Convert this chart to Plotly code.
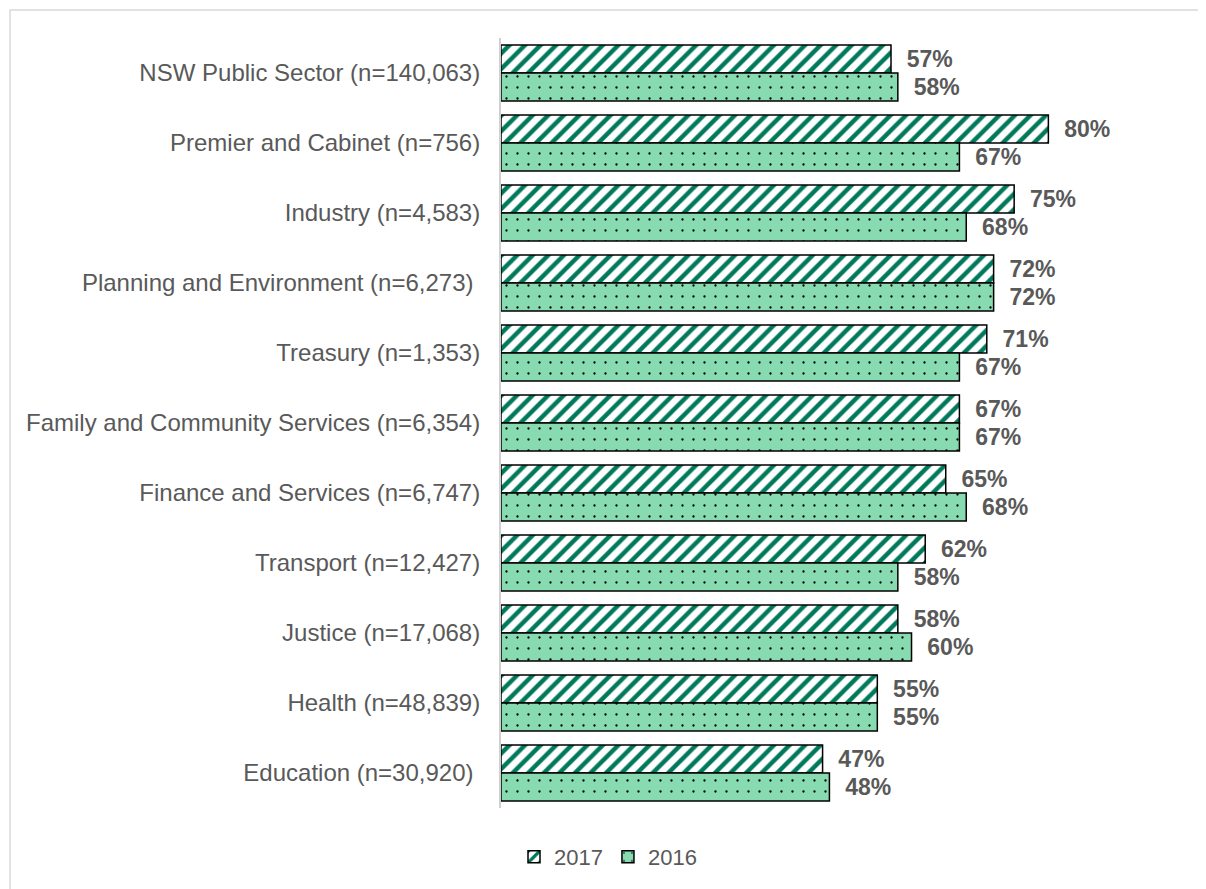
import plotly.graph_objects as go

categories = [
    "NSW Public Sector (n=140,063)",
    "Premier and Cabinet (n=756)",
    "Industry (n=4,583)",
    "Planning and Environment (n=6,273)\u00a0",
    "Treasury (n=1,353)",
    "Family and Community Services (n=6,354)",
    "Finance and Services (n=6,747)",
    "Transport (n=12,427)",
    "Justice (n=17,068)",
    "Health (n=48,839)",
    "Education (n=30,920)\u00a0",
]
values_2017 = [0.57, 0.80, 0.75, 0.72, 0.71, 0.67, 0.65, 0.62, 0.58, 0.55, 0.47]
values_2016 = [0.58, 0.67, 0.68, 0.72, 0.67, 0.67, 0.68, 0.58, 0.60, 0.55, 0.48]

FONT = "Liberation Sans, Arial, sans-serif"
GREY = "#595959"

W, H = 1206, 889
L, R, T, B = 493, 63, 30, 89
pw, ph = W - L - R, H - T - B

fig = go.Figure()
fig.add_trace(go.Bar(
    y=categories, x=values_2017, name="2017", orientation="h",
    marker=dict(color="white", line=dict(color="black", width=1.5),
                pattern=dict(shape="/", fgcolor="#00785A", bgcolor="white",
                             size=11, solidity=0.4, fillmode="replace")),
    text=values_2017, texttemplate="\u00a0\u00a0<b>%{x:.0%}</b>", textposition="outside",
    constraintext="none",
    textfont=dict(family=FONT, size=23, color=GREY), cliponaxis=False,
))
fig.add_trace(go.Bar(
    y=categories, x=values_2016, name="2016", orientation="h",
    marker=dict(color="#88DAB0", line=dict(color="black", width=1.5),
                pattern=dict(shape=".", fgcolor="black", bgcolor="#88DAB0",
                             size=11, solidity=0.035, fillmode="replace")),
    text=values_2016, texttemplate="\u00a0\u00a0<b>%{x:.0%}</b>", textposition="outside",
    constraintext="none",
    textfont=dict(family=FONT, size=23, color=GREY), cliponaxis=False,
))

fig.update_layout(
    width=W, height=H,
    margin=dict(l=L, r=R, t=T, b=B),
    paper_bgcolor="white", plot_bgcolor="white",
    barmode="group", bargap=0.2, bargroupgap=0,
    font=dict(family=FONT, color=GREY, size=22),
    legend=dict(orientation="h", x=(600 - L) / pw, xanchor="center",
                y=(T + ph - 849) / ph, yanchor="middle",
                font=dict(family=FONT, size=22, color=GREY),
                itemwidth=30, tracegroupgap=0),
    xaxis=dict(range=[0, 0.95], visible=False, showgrid=False, zeroline=False),
    yaxis=dict(autorange="reversed", showline=True, linecolor="#D0D0D0", linewidth=2,
               ticks="", showgrid=False, ticklabelstandoff=14,
               tickfont=dict(family=FONT, size=24, color=GREY)),
    shapes=[dict(type="rect", xref="paper", yref="paper",
                 x0=(2 - L) / pw, x1=(W + 20 - L) / pw,
                 y0=-(B + 20) / ph, y1=(T + ph - 2) / ph,
                 line=dict(color="#D9D9D9", width=1.5), fillcolor="rgba(0,0,0,0)",
                 layer="below")],
)

fig.write_html("out.html")
